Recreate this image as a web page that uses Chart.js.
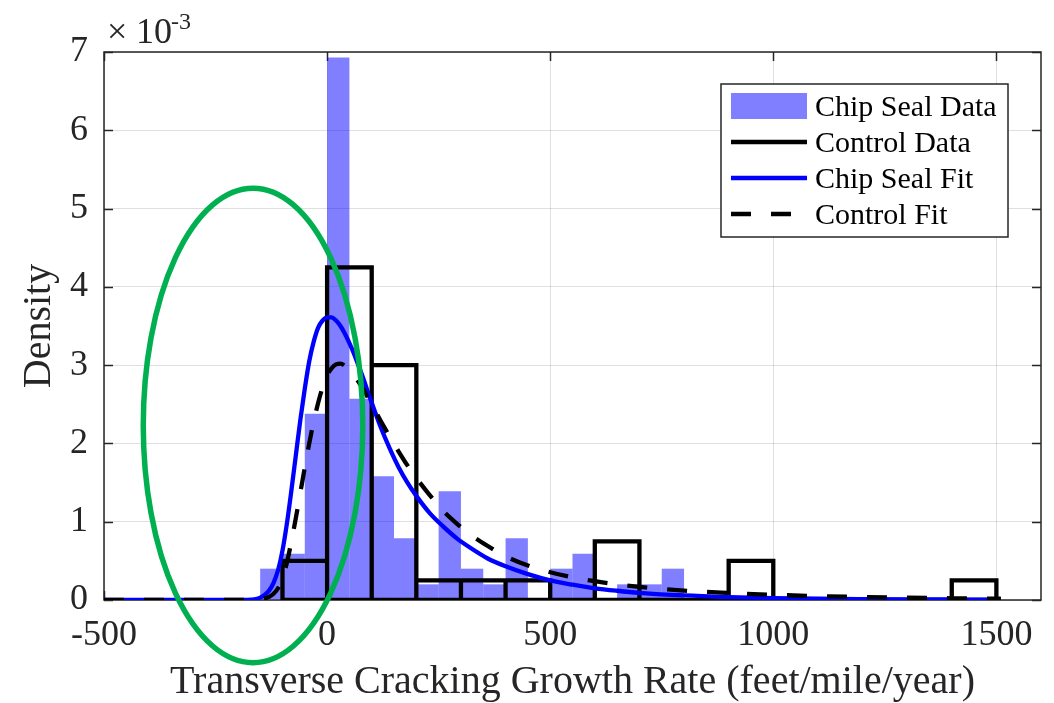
<!DOCTYPE html>
<html>
<head>
<meta charset="utf-8">
<title>Transverse Cracking Growth Rate</title>
<script src="https://cdn.jsdelivr.net/npm/chart.js@4.4.1/dist/chart.umd.min.js"></script>
<style>
  html, body { margin: 0; padding: 0; background: #ffffff; }
  canvas { display: block; }
</style>
</head>
<body>
<canvas id="chart" width="1054" height="703"></canvas>
<script>
// ---- Data (densities in units of 10^-3) ----
// Chip seal sections: histogram bins of 50 feet/mile/year
const chipSealBinStart = [-150, -100, -50, 0, 50, 100, 150, 200, 250, 300, 350, 400, 450, 500, 550, 600, 650, 700, 750];
const chipSealDensity  = [0.40, 0.59, 2.38, 6.93, 2.57, 1.58, 0.79, 0.20, 1.39, 0.40, 0.20, 0.79, 0, 0.40, 0.59, 0, 0.20, 0.20, 0.40];
const chipSealBinWidth = 50;

// Control sections: histogram bins of 100 feet/mile/year
const controlBinStart = [-100, 0, 100, 200, 300, 400, 500, 600, 700, 800, 900, 1000, 1100, 1200, 1300, 1400];
const controlDensity  = [0.50, 4.25, 3.00, 0.25, 0.25, 0.25, 0, 0.75, 0, 0, 0.50, 0, 0, 0, 0, 0.25];
const controlBinWidth = 100;

// Fitted density curves
const fitX = [-500, -400, -300, -200, -180, -170, -160, -150, -140, -130, -120, -110, -100, -90, -80, -70, -60, -50, -40, -30, -20, -10,
              0, 10, 20, 30, 40, 50, 60, 70, 80, 90, 100, 120, 140, 160, 180, 200, 230, 260, 290, 320, 360, 400, 450, 500,
              550, 600, 650, 700, 800, 900, 1000, 1100, 1200, 1300, 1400, 1510];
const chipSealFit = [0, 0, 0, 0, 0.002, 0.005, 0.012, 0.03, 0.065, 0.12, 0.22, 0.38, 0.63, 0.98, 1.40, 1.85, 2.30, 2.70, 3.05, 3.30, 3.48, 3.57,
                     3.61, 3.61, 3.57, 3.50, 3.40, 3.28, 3.15, 3.00, 2.85, 2.68, 2.52, 2.21, 1.94, 1.70, 1.50, 1.33, 1.11, 0.94, 0.79, 0.67, 0.53, 0.43, 0.33, 0.25,
                     0.195, 0.15, 0.118, 0.092, 0.058, 0.038, 0.025, 0.017, 0.012, 0.008, 0.006, 0.004];
const controlFit  = [0, 0, 0, 0, 0, 0, 0.002, 0.006, 0.02, 0.04, 0.08, 0.15, 0.28, 0.48, 0.75, 1.05, 1.37, 1.69, 2.00, 2.28, 2.52, 2.72,
                     2.87, 2.96, 3.01, 3.02, 2.99, 2.94, 2.87, 2.79, 2.70, 2.60, 2.50, 2.29, 2.09, 1.90, 1.72, 1.56, 1.34, 1.14, 0.98, 0.84, 0.69, 0.56, 0.44, 0.355,
                     0.29, 0.24, 0.20, 0.168, 0.12, 0.09, 0.066, 0.05, 0.038, 0.029, 0.022, 0.017];

// Axis ticks
const xTicks = [-500, 0, 500, 1000, 1500];
const yTicks = [0, 1, 2, 3, 4, 5, 6, 7];

// Highlighted region (ellipse in data units)
const highlightRegion = { centerX: -166, centerY: 2.23, radiusX: 246, radiusY: 3.03 };

// ---- Styling ----
const SERIF = '"Liberation Serif", "Times New Roman", Times, serif';
const AXIS_COLOR = '#262626';
const GRID_COLOR = 'rgba(38,38,38,0.15)';
const CHIP_FILL = 'rgba(0,0,255,0.5)';
const FIT_BLUE = '#0000ff';
const HIGHLIGHT = '#00b050';
const LINE_W = 4.3;

// Histogram series built from the bin arrays
const chipSealBars = chipSealBinStart.map((x0, i) => ({ x: x0 + chipSealBinWidth / 2, y: chipSealDensity[i] }));

const controlOutline = [];
controlBinStart.forEach((x0, i) => {
  const x1 = x0 + controlBinWidth;
  const h = controlDensity[i];
  controlOutline.push({ x: x0, y: 0 }, { x: x0, y: h }, { x: x1, y: h }, { x: x1, y: 0 });
});
controlOutline.push({ x: controlBinStart[0], y: 0 });

const chipSealCurve = fitX.map((x, i) => ({ x, y: chipSealFit[i] }));
const controlCurve = fitX.map((x, i) => ({ x, y: controlFit[i] }));

// Box around the plot with inward tick marks on all four sides
const axesBox = {
  id: 'axesBox',
  beforeDatasetsDraw(chart) {
    const { ctx, chartArea: a, scales } = chart;
    const tick = 9;
    ctx.save();
    ctx.strokeStyle = AXIS_COLOR;
    ctx.lineWidth = 1.5;
    ctx.beginPath();
    xTicks.forEach(v => {
      const px = Math.round(scales.x.getPixelForValue(v)) + 0.5;
      ctx.moveTo(px, a.bottom); ctx.lineTo(px, a.bottom - tick);
      ctx.moveTo(px, a.top); ctx.lineTo(px, a.top + tick);
    });
    yTicks.forEach(v => {
      const py = Math.round(scales.y.getPixelForValue(v)) + 0.5;
      ctx.moveTo(a.left, py); ctx.lineTo(a.left + tick, py);
      ctx.moveTo(a.right, py); ctx.lineTo(a.right - tick, py);
    });
    ctx.stroke();
    ctx.strokeRect(a.left, a.top, a.right - a.left, a.bottom - a.top);
    ctx.restore();
  }
};

// Ellipse marking the negative-growth region, axis exponent and legend
const overlay = {
  id: 'overlay',
  afterDraw(chart) {
    const { ctx, chartArea: a, scales } = chart;
    const xs = scales.x, ys = scales.y;
    ctx.save();

    // highlighted region
    const cx = xs.getPixelForValue(highlightRegion.centerX);
    const cy = ys.getPixelForValue(highlightRegion.centerY);
    const rx = Math.abs(xs.getPixelForValue(highlightRegion.centerX + highlightRegion.radiusX) - cx);
    const ry = Math.abs(ys.getPixelForValue(highlightRegion.centerY + highlightRegion.radiusY) - cy);
    ctx.beginPath();
    ctx.ellipse(cx, cy, rx, ry, 0, 0, Math.PI * 2);
    ctx.strokeStyle = HIGHLIGHT;
    ctx.lineWidth = 5.5;
    ctx.stroke();

    // y-axis multiplier
    ctx.fillStyle = AXIS_COLOR;
    ctx.textBaseline = 'alphabetic';
    ctx.textAlign = 'left';
    ctx.font = '36px ' + SERIF;
    ctx.fillText('\u00d7', a.left + 3, 43);
    ctx.fillText('10', a.left + 32, 43);
    ctx.font = '24px ' + SERIF;
    ctx.fillText('-3', a.left + 67, 29);

    // legend
    const box = { x: 721, y: 84, w: 287, h: 153 };
    ctx.fillStyle = '#ffffff';
    ctx.fillRect(box.x, box.y, box.w, box.h);
    ctx.strokeStyle = AXIS_COLOR;
    ctx.lineWidth = 1.5;
    ctx.strokeRect(box.x, box.y, box.w, box.h);

    const entries = [
      { label: 'Chip Seal Data', kind: 'patch', color: CHIP_FILL },
      { label: 'Control Data', kind: 'line', color: '#000000', dash: [] },
      { label: 'Chip Seal Fit', kind: 'line', color: FIT_BLUE, dash: [] },
      { label: 'Control Fit', kind: 'line', color: '#000000', dash: [20, 20] }
    ];
    const iconX0 = box.x + 10, iconX1 = box.x + 86, textX = box.x + 94;
    entries.forEach((e, i) => {
      const midY = box.y + 22 + i * 36;
      if (e.kind === 'patch') {
        ctx.fillStyle = e.color;
        ctx.fillRect(iconX0, midY - 13, iconX1 - iconX0, 26);
      } else {
        ctx.strokeStyle = e.color;
        ctx.lineWidth = LINE_W;
        ctx.setLineDash(e.dash);
        ctx.beginPath();
        ctx.moveTo(iconX0, midY);
        ctx.lineTo(iconX1, midY);
        ctx.stroke();
        ctx.setLineDash([]);
      }
      ctx.fillStyle = '#000000';
      ctx.font = '30px ' + SERIF;
      ctx.textBaseline = 'alphabetic';
      ctx.fillText(e.label, textX, midY + 10);
    });
    ctx.restore();
  }
};

new Chart(document.getElementById('chart'), {
  type: 'line',
  data: {
    datasets: [
      {
        label: 'Control Fit',
        data: controlCurve,
        borderColor: '#000000',
        borderWidth: LINE_W,
        borderDash: [20, 20],
        pointRadius: 0,
        cubicInterpolationMode: 'monotone',
        fill: false,
        order: 1
      },
      {
        label: 'Chip Seal Fit',
        data: chipSealCurve,
        borderColor: FIT_BLUE,
        borderWidth: LINE_W,
        pointRadius: 0,
        cubicInterpolationMode: 'monotone',
        fill: false,
        order: 2
      },
      {
        label: 'Control Data',
        data: controlOutline,
        borderColor: '#000000',
        borderWidth: LINE_W,
        borderJoinStyle: 'miter',
        pointRadius: 0,
        tension: 0,
        fill: false,
        order: 3
      },
      {
        type: 'bar',
        label: 'Chip Seal Data',
        data: chipSealBars,
        backgroundColor: CHIP_FILL,
        borderWidth: 0,
        barPercentage: 1,
        categoryPercentage: 1,
        inflateAmount: 0,
        order: 4
      }
    ]
  },
  options: {
    responsive: false,
    animation: false,
    devicePixelRatio: 1,
    layout: { padding: { left: 0, top: 52, right: 13, bottom: 0 } },
    plugins: { legend: { display: false }, tooltip: { enabled: false } },
    scales: {
      x: {
        type: 'linear',
        min: -500,
        max: 1600,
        bounds: 'data',
        offset: false,
        afterBuildTicks(scale) { scale.ticks = xTicks.map(v => ({ value: v })); },
        afterFit(scale) { scale.height = 103; scale.paddingLeft = 0; scale.paddingRight = 0; },
        grid: { color: GRID_COLOR, lineWidth: 1, drawTicks: false, offset: false },
        border: { display: false },
        ticks: {
          padding: 14,
          maxRotation: 0,
          autoSkip: false,
          color: AXIS_COLOR,
          font: { family: SERIF, size: 36 },
          callback: v => String(v)
        },
        title: {
          display: true,
          text: 'Transverse Cracking Growth Rate (feet/mile/year)',
          color: AXIS_COLOR,
          font: { family: SERIF, size: 40 },
          padding: { top: 0, bottom: -3 }
        }
      },
      y: {
        type: 'linear',
        min: 0,
        max: 7,
        afterBuildTicks(scale) { scale.ticks = yTicks.map(v => ({ value: v })); },
        afterFit(scale) { scale.width = 104; scale.paddingTop = 0; scale.paddingBottom = 0; },
        grid: { color: GRID_COLOR, lineWidth: 1, drawTicks: false },
        border: { display: false },
        ticks: {
          padding: 16,
          color: AXIS_COLOR,
          font: { family: SERIF, size: 36 },
          callback: v => String(v)
        },
        title: {
          display: true,
          text: 'Density',
          color: AXIS_COLOR,
          font: { family: SERIF, size: 40 },
          padding: { top: 15, bottom: 0 }
        }
      }
    }
  },
  plugins: [axesBox, overlay]
});
</script>
</body>
</html>
